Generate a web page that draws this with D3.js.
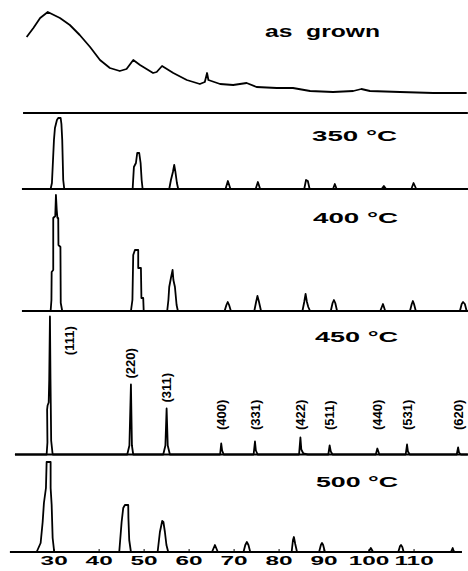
<!DOCTYPE html>
<html><head><meta charset="utf-8">
<script src="https://cdn.jsdelivr.net/npm/d3@7"></script>
<style>
html,body{margin:0;padding:0;background:#fff;}
svg{display:block;}
</style></head>
<body>
<svg id="chart" width="468" height="571"></svg>
<script>
// ---------------- DATA (2θ in degrees, intensity in arbitrary units) ----------------
const panelNames = ["as  grown", "350 °C", "400 °C", "450 °C", "500 °C"];

const traceAsGrown = [[24.0,76],[25.5,85],[27.0,95],[28.7,101],[31.4,95],[33.6,88],[35.8,78],[38.1,66],
  [40.3,53],[42.5,45],[44.7,42],[46.2,44],[47.7,53],[49.2,48],[52.1,40],[52.9,41],[54.1,47],[56.6,40],
  [59.6,33],[62.5,29],[63.6,31],[64.1,40],[64.4,33],[67.0,29],[69.9,28],[72.9,30],[75.1,26],[79.6,25],
  [83.2,25],[87.0,22],[92.1,21],[96.6,22],[98.4,24],[100.3,22],[107.0,21],[114.4,20],[121.8,20]];

const trace350 = [[22.96,0],[29.33,0],[29.62,6],[30.07,49],[30.29,61],[30.73,69],[31.02,71],[31.56,71],
  [31.73,65],[31.91,49],[32.02,29],[32.13,9],[32.36,0],
  [47.56,0],[47.84,22],[48.29,26],[48.58,36],[49.02,36],[49.33,26],[49.56,9],[49.78,0],
  [55.69,0],[56.07,9],[56.51,17],[56.8,24],[57.07,17],[57.4,6],[57.69,0],
  [68.2,0],[68.73,8],[69.3,0],[74.9,0],[75.4,7],[75.9,0],[85.7,0],[86.1,9],[86.5,8],[86.9,0],
  [92.1,0],[92.5,5],[92.9,0],[102.9,0],[103.4,3],[103.9,0],[109.5,0],[110.0,6],[110.6,0],[122.07,0]];

const trace400 = [[22.96,0],[29.33,0],[29.51,11],[29.56,39],[29.91,41],[29.91,93],[30.36,95],[30.51,116],
  [30.69,101],[30.84,93],[31.02,93],[31.07,66],[31.51,64],[31.58,8],[31.91,0],
  [47.18,0],[47.51,11],[47.69,56],[48.07,61],[48.8,61],[48.8,43],[49.4,43],[49.51,13],[49.91,13],[50.02,0],
  [55.24,0],[55.51,11],[55.69,24],[56.07,33],[56.44,41],[56.62,31],[56.96,24],[57.33,6],[57.62,0],
  [68.0,0],[68.4,6],[68.7,9],[69.0,6],[69.4,0],[74.6,0],[75.0,9],[75.3,15],[75.6,10],[76.1,0],
  [85.3,0],[85.7,9],[86.0,17],[86.3,9],[86.6,4],[87.0,0],[91.6,0],[92.0,8],[92.3,11],[92.6,8],[93.0,0],
  [102.6,0],[103.2,7],[103.7,0],[109.2,0],[109.6,7],[109.85,10],[110.1,7],[110.5,0],
  [120.3,0],[120.7,7],[121.0,9],[121.4,7],[121.8,0],[122.07,0]];

const trace450 = [[21.4,0],[28.44,0],[28.62,12],[28.55,45],[28.65,49],[28.9,52],[29.02,75],[29.18,138],
  [29.3,75],[29.45,14],[29.78,0],
  [46.36,0],[46.84,9],[47.18,70],[47.4,9],[47.69,0],
  [54.36,0],[54.84,9],[55.11,46],[55.36,9],[55.84,0],
  [67.0,0],[67.25,11],[67.45,4],[67.8,0],[74.45,0],[74.75,13],[74.95,4],[75.35,0],
  [84.55,0],[84.85,17],[85.05,5],[85.5,1],[86.5,0],[91.05,0],[91.35,9],[91.6,3],[92.0,0],
  [101.6,0],[101.95,6],[102.4,0],[108.25,0],[108.55,10],[108.75,3],[109.15,0],
  [119.6,0],[119.9,7],[120.1,2],[120.5,0],[122.07,0]];

const trace500 = [[20.29,0],[26.22,0],[27.11,9],[27.56,30],[27.84,49],[28.29,64],[28.44,90],[29.33,90],
  [29.33,64],[29.56,47],[29.78,14],[30.13,0],
  [44.58,0],[45.11,30],[45.47,44],[45.84,47],[46.58,47],[46.62,34],[46.8,12],[47.18,0],
  [53.11,0],[53.62,20],[54.13,31],[54.4,30],[54.73,20],[55.07,7],[55.47,0],
  [65.2,0],[65.85,7],[66.5,0],[72.2,0],[72.6,7],[72.95,10],[73.3,7],[73.7,0],
  [82.9,0],[83.2,12],[83.4,15],[83.7,8],[84.1,0],[89.0,0],[89.4,7],[89.65,9],[89.9,7],[90.3,0],
  [100.0,0],[100.5,4],[101.0,0],[106.6,0],[107.0,6],[107.2,7],[107.5,5],[107.8,0],
  [118.3,0],[118.7,4],[118.9,1],[119.2,0],[120.73,0]];

const baselineStarts = [23.2, 22.96, 22.96, 21.4, 20.29];
const baselineEnds   = [122.07, 122.07, 122.07, 122.07, 120.73];

const hklLabels      = ["(111)","(220)","(311)","(400)","(331)","(422)","(511)","(440)","(531)","(620)"];
const hklPositions   = [29.18, 47.18, 55.11, 67.25, 74.75, 84.85, 91.35, 101.95, 108.55, 119.9];
const hklIntensities = [138, 70, 46, 11, 13, 17, 9, 6, 10, 7];

const tickValues = [30, 40, 50, 60, 70, 80, 90, 100, 110];

// ---------------- LAYOUT ----------------
const svg = d3.select("#chart");
const x = d3.scaleLinear().domain([20.3, 122.1]).range([10, 468]);

const traces = [traceAsGrown, trace350, trace400, trace450, trace500];
const bases  = [113, 189, 311, 454.5, 552];
const titlePos = [[265, 37, 115], [312, 141, 85], [313, 223, 85], [315, 342, 83], [316, 487, 82]];

const font = "'Liberation Sans', Arial, sans-serif";

traces.forEach((tr, i) => {
  const y = d3.scaleLinear().domain([0, 100]).range([bases[i], bases[i] - 100]);
  const g = svg.append("g");
  g.append("line")
    .attr("x1", x(baselineStarts[i])).attr("x2", x(baselineEnds[i]))
    .attr("y1", y(0)).attr("y2", y(0))
    .attr("stroke", "#000").attr("stroke-width", 2.2);
  const line = d3.line().x(d => x(d[0])).y(d => y(d[1]));
  g.append("path").attr("d", line(tr))
    .attr("fill", "none").attr("stroke", "#000")
    .attr("stroke-width", 1.8).attr("stroke-linejoin", "round");
  g.append("text")
    .attr("x", titlePos[i][0]).attr("y", titlePos[i][1])
    .attr("textLength", titlePos[i][2]).attr("lengthAdjust", "spacingAndGlyphs")
    .style("white-space", "pre")
    .attr("font-family", font).attr("font-weight", "bold")
    .attr("font-size", i === 0 ? 16 : 15).attr("fill", "#000")
    .text(panelNames[i]);

  if (i === 3) {
    hklLabels.forEach((lab, k) => {
      const px = x(hklPositions[k]);
      const top = y(hklIntensities[k]);
      let lx = px, ly = Math.min(top - 6, 430);
      if (hklIntensities[k] > 100) { lx = px + 19; ly = y(hklIntensities[k] * 0.72); }
      g.append("text")
        .attr("transform", `translate(${lx},${ly}) rotate(-90)`)
        .attr("dy", "0.35em")
        .attr("font-family", font).attr("font-weight", "bold")
        .attr("font-size", 13).attr("fill", "#000")
        .text(lab);
    });
  }
});

// bottom axis
const axis = d3.axisBottom(x).tickValues(tickValues).tickSize(-3).tickFormat(d3.format("d"));
const ag = svg.append("g").attr("transform", `translate(0,${bases[4]})`).call(axis);
ag.select(".domain").remove();
ag.selectAll(".tick line").attr("stroke", "#000").attr("stroke-width", 1);
ag.selectAll(".tick text")
  .attr("y", 13).attr("dy", 0)
  .attr("transform", "scale(1.95,1)")
  .attr("font-family", font).attr("font-weight", "bold")
  .attr("font-size", 12.5).attr("fill", "#000");
</script>
</body></html>
